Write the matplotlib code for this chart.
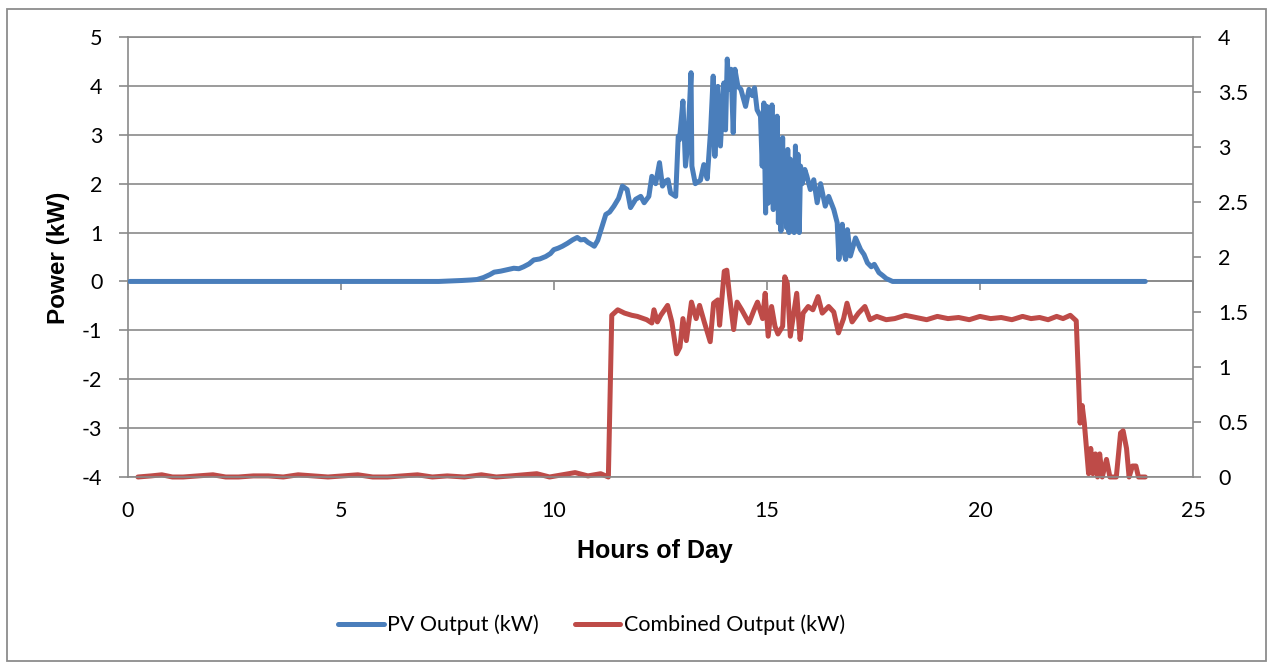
import matplotlib
matplotlib.use("Agg")
import matplotlib.pyplot as plt
from matplotlib import font_manager as fm
from matplotlib.patches import Rectangle

# ---------------- data ----------------
pv_hours = [0.05, 7.30, 7.60, 7.85, 8.05, 8.20, 8.35, 8.50, 8.60, 8.75, 8.90, 9.06,
            9.18, 9.29, 9.42, 9.53, 9.67, 9.81, 9.92, 10.00, 10.10, 10.20, 10.32, 10.44,
            10.55, 10.63, 10.72, 10.80, 10.88, 10.95, 11.03, 11.11, 11.22, 11.31, 11.41,
            11.52, 11.61, 11.72, 11.80, 11.92, 12.04, 12.12, 12.23, 12.30, 12.39, 12.48,
            12.55, 12.62, 12.68, 12.74, 12.86, 12.92, 12.95, 13.03, 13.09, 13.14, 13.22,
            13.24, 13.32, 13.44, 13.52, 13.60, 13.68, 13.74, 13.78, 13.85, 13.91, 13.99,
            14.03, 14.07, 14.11, 14.16, 14.21, 14.25, 14.32, 14.39, 14.50, 14.58, 14.66,
            14.71, 14.77, 14.85, 14.89, 14.93, 14.97, 15.00, 15.03, 15.06, 15.09, 15.12,
            15.15, 15.18, 15.21, 15.24, 15.27, 15.30, 15.33, 15.37, 15.40, 15.43, 15.46,
            15.49, 15.52, 15.55, 15.58, 15.61, 15.64, 15.67, 15.70, 15.73, 15.76, 15.79,
            15.83, 15.89, 15.94, 16.02, 16.10, 16.18, 16.26, 16.37, 16.45, 16.57, 16.65,
            16.69, 16.73, 16.77, 16.81, 16.85, 16.89, 16.96, 17.08, 17.20, 17.28, 17.36,
            17.45, 17.52, 17.63, 17.72, 17.80, 17.95, 23.88]
pv_kw = [0.0, 0.0, 0.01, 0.02, 0.03, 0.04, 0.08, 0.14, 0.19, 0.21, 0.24, 0.27,
         0.26, 0.30, 0.36, 0.44, 0.46, 0.51, 0.57, 0.65, 0.68, 0.72, 0.78, 0.85,
         0.90, 0.85, 0.86, 0.80, 0.76, 0.72, 0.84, 1.06, 1.37, 1.42, 1.54,
         1.70, 1.95, 1.88, 1.51, 1.68, 1.74, 1.61, 1.74, 2.15, 2.00, 2.43,
         1.95, 2.05, 2.08, 1.81, 1.74, 2.97, 2.90, 3.69, 2.36, 2.77, 4.27,
         2.36, 2.00, 2.07, 2.39, 2.10, 3.10, 4.20, 2.56, 3.99, 2.77, 4.06,
         3.10, 4.55, 3.93, 4.34, 3.04, 4.34, 3.99, 3.93, 3.58, 3.93, 3.80,
         3.96, 3.51, 3.38, 2.36, 3.65, 1.40, 3.58, 1.60, 3.20, 2.00, 3.61,
         1.47, 3.30, 1.60, 3.38, 1.20, 2.50, 1.03, 2.94, 1.30, 2.40, 1.10,
         2.70, 1.00, 2.50, 1.20, 2.20, 1.00, 2.77, 1.40, 2.60, 1.00, 2.36,
         2.00, 2.29, 2.15, 1.88, 2.08, 1.61, 2.00, 1.54, 1.74, 1.47, 1.20,
         0.45, 0.90, 1.17, 0.60, 0.45, 1.06, 0.52, 0.89, 0.65, 0.55, 0.38,
         0.30, 0.35, 0.18, 0.12, 0.06, 0.0, 0.0]

comb_hours = [0.24, 0.55, 0.80, 1.05, 1.30, 1.65, 2.00, 2.30, 2.60, 2.95, 3.30, 3.65,
              4.00, 4.35, 4.70, 5.05, 5.40, 5.75, 6.10, 6.45, 6.80, 7.15, 7.50, 7.90,
              8.30, 8.65, 9.00, 9.30, 9.60, 9.90, 10.20, 10.50, 10.80, 11.10, 11.28,
              11.36, 11.50, 11.66, 11.83, 11.96, 12.18, 12.30, 12.35, 12.43, 12.51, 12.67,
              12.77, 12.88, 12.96, 13.03, 13.11, 13.23, 13.34, 13.42, 13.53, 13.67, 13.75,
              13.85, 13.89, 14.00, 14.06, 14.12, 14.22, 14.30, 14.41, 14.58, 14.70, 14.78,
              14.90, 14.96, 15.03, 15.11, 15.19, 15.26, 15.37, 15.42, 15.48, 15.55, 15.63,
              15.70, 15.78, 15.85, 15.97, 16.08, 16.20, 16.30, 16.45, 16.57, 16.68, 16.80,
              16.88, 17.00, 17.15, 17.30, 17.42, 17.58, 17.80, 18.00, 18.25, 18.50, 18.75,
              19.00, 19.25, 19.50, 19.75, 20.00, 20.25, 20.50, 20.75, 21.00, 21.20, 21.40,
              21.60, 21.80, 21.95, 22.12, 22.26, 22.32, 22.35, 22.40, 22.45, 22.55, 22.60,
              22.65, 22.71, 22.76, 22.81, 22.87, 22.97, 23.05, 23.20, 23.30, 23.36, 23.44,
              23.50, 23.58, 23.66, 23.72, 23.88]
comb_kw = [0.00, 0.01, 0.02, 0.00, 0.00, 0.01, 0.02, 0.00, 0.00, 0.01, 0.01, 0.00,
           0.02, 0.01, 0.00, 0.01, 0.02, 0.00, 0.00, 0.01, 0.02, 0.00, 0.01, 0.00,
           0.02, 0.00, 0.01, 0.02, 0.03, 0.00, 0.02, 0.04, 0.01, 0.03, 0.00,
           1.47, 1.52, 1.49, 1.47, 1.46, 1.43, 1.40, 1.52, 1.41, 1.47, 1.56,
           1.41, 1.12, 1.18, 1.44, 1.24, 1.59, 1.44, 1.56, 1.41, 1.23, 1.58,
           1.61, 1.38, 1.87, 1.88, 1.66, 1.34, 1.59, 1.52, 1.40, 1.52, 1.59,
           1.44, 1.67, 1.28, 1.55, 1.37, 1.30, 1.37, 1.82, 1.76, 1.28, 1.49,
           1.67, 1.25, 1.49, 1.55, 1.52, 1.64, 1.49, 1.55, 1.50, 1.31, 1.44,
           1.58, 1.41, 1.49, 1.55, 1.43, 1.46, 1.43, 1.44, 1.47, 1.45, 1.43,
           1.46, 1.44, 1.45, 1.43, 1.46, 1.44, 1.45, 1.43, 1.46, 1.44, 1.45,
           1.43, 1.46, 1.44, 1.47, 1.42, 0.82, 0.49, 0.65, 0.49, 0.03, 0.26,
           0.03, 0.21, 0.00, 0.21, 0.00, 0.16, 0.00, 0.00, 0.40, 0.42, 0.26,
           0.00, 0.10, 0.10, 0.00, 0.00]

x_ticks = [0, 5, 10, 15, 20, 25]
left_ticks = [-4, -3, -2, -1, 0, 1, 2, 3, 4, 5]
right_ticks = [0, 0.5, 1, 1.5, 2, 2.5, 3, 3.5, 4]
right_tick_labels = ["0", "0.5", "1", "1.5", "2", "2.5", "3", "3.5", "4"]

# ---------------- fonts ----------------
avail = {f.name for f in fm.fontManager.ttflist}
if "Lato" in avail:
    reg_font, reg_size = "Lato", 15.5
else:
    reg_font, reg_size = "Liberation Sans", 15
bold_font = "Liberation Sans" if "Liberation Sans" in avail else "DejaVu Sans"
plt.rcParams["axes.unicode_minus"] = False

W, H = 1268, 662
fig = plt.figure(figsize=(W / 100, H / 100), dpi=100)
fig.patch.set_facecolor("white")
fig.patches.append(Rectangle((7 / W, 1 / H), 1258.5 / W, 652.5 / H, transform=fig.transFigure,
                             fill=False, edgecolor="#8c8c8c", linewidth=1.3))

x0, x1, ytop, ybot = 127.7, 1193, 37, 477
ax = fig.add_axes([x0 / W, 1 - ybot / H, (x1 - x0) / W, (ybot - ytop) / H])
ax2 = ax.twinx()

grid_c = "#8a8a8a"
blue = "#4a7ebb"
red = "#be4b48"

l1, = ax.plot(pv_hours, pv_kw, color=blue, lw=3.6, solid_joinstyle="round",
              solid_capstyle="round", zorder=3, label="PV Output (kW)")
l2, = ax2.plot(comb_hours, comb_kw, color=red, lw=3.6, solid_joinstyle="round",
               solid_capstyle="round", clip_on=False, label="Combined Output (kW)")

ax.set_xlim(0, 25)
ax.set_ylim(-4, 5)
ax2.set_ylim(0, 4)

ax.set_axisbelow(True)
ax.set_yticks(left_ticks)
ax.set_yticklabels([str(t) for t in left_ticks])
ax.yaxis.grid(True, color=grid_c, lw=1.2)
ax.set_xticks(x_ticks)

for s in ["top", "right"]:
    ax.spines[s].set_visible(False)
ax.spines["left"].set_color(grid_c)
ax.spines["left"].set_linewidth(1.2)
ax.spines["bottom"].set_position(("data", 0))
ax.spines["bottom"].set_color(grid_c)
ax.spines["bottom"].set_linewidth(1.2)
ax.tick_params(axis="x", direction="out", length=6.3, width=1.2, color=grid_c,
               labelbottom=False)
ax.tick_params(axis="y", direction="out", length=6.3, width=1.2, color=grid_c,
               pad=12, labelsize=reg_size)
for lab in ax.get_yticklabels():
    lab.set_fontfamily(reg_font)

ax2.set_yticks(right_ticks)
ax2.set_yticklabels(right_tick_labels)
ax2.spines["left"].set_visible(False)
for s in ["top", "bottom"]:
    ax2.spines[s].set_color(grid_c)
    ax2.spines[s].set_linewidth(1.2)
ax2.spines["right"].set_color(grid_c)
ax2.spines["right"].set_linewidth(1.2)
ax2.tick_params(axis="y", direction="out", length=6, width=1.2, color=grid_c,
                pad=12, labelsize=reg_size)
for lab in ax2.get_yticklabels():
    lab.set_fontfamily(reg_font)

sec = ax.secondary_xaxis("bottom")
sec.set_xticks(x_ticks)
sec.set_xticklabels([str(t) for t in x_ticks])
sec.spines["bottom"].set_visible(False)
sec.tick_params(axis="x", length=0, pad=17.5, labelsize=reg_size)
for lab in sec.get_xticklabels():
    lab.set_fontfamily(reg_font)

fig.text(655 / W, 1 - 558 / H, "Hours of Day", ha="center", va="baseline",
         fontsize=18, fontweight="bold", family=bold_font)
fig.text(65 / W, 1 - 258 / H, "Power (kW)", rotation=90, rotation_mode="anchor",
         ha="center", va="baseline", fontsize=17.5, fontweight="bold", family=bold_font)

fig.legend(handles=[l1, l2], loc="center", bbox_to_anchor=(591.5 / W, 1 - 625 / H),
           ncol=2, frameon=False, prop={"family": reg_font, "size": reg_size},
           handlelength=2.1, handletextpad=0.15, columnspacing=1.7)

fig.savefig("out.png", dpi=100, facecolor="white")
